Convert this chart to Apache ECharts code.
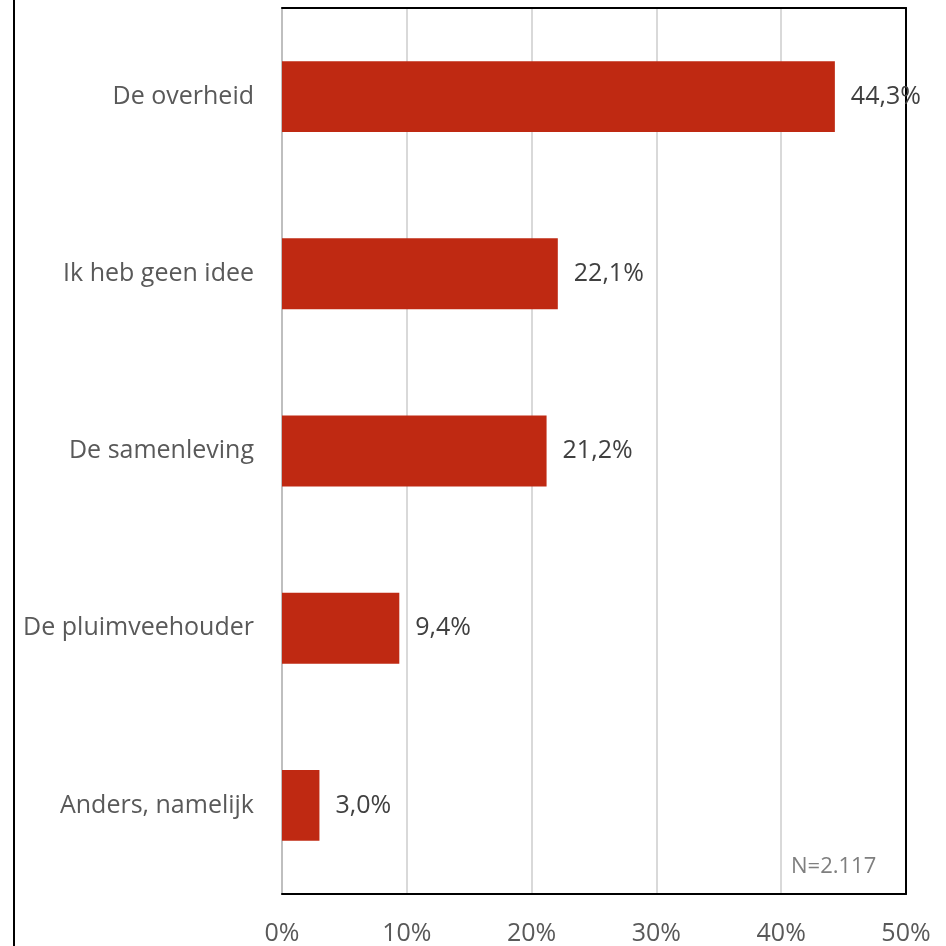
<!DOCTYPE html>
<html>
<head>
<meta charset="utf-8">
<script src="https://cdn.jsdelivr.net/npm/echarts@6/dist/echarts.min.js"></script>
<style>html,body{margin:0;padding:0;background:#fff}#c{width:946px;height:946px}</style>
</head>
<body>
<div id="c"></div>
<script>
const categories = ["De overheid", "Ik heb geen idee", "De samenleving", "De pluimveehouder", "Anders, namelijk"];
const values = [44.3, 22.1, 21.2, 9.4, 3.0];
const axisMin = 0, axisMax = 50, axisStep = 10;
const noteText = "N=2.117";

const FONT = "Open Sans";
const chart = echarts.init(document.getElementById('c'), null, {renderer: 'canvas'});
chart.setOption({
  animation: false,
  backgroundColor: '#fff',
  grid: {left: 282, right: 40, top: 8, bottom: 51},
  xAxis: [{
    type: 'value', min: axisMin, max: axisMax, interval: axisStep, position: 'bottom',
    axisLine: {show: true, onZero: false, lineStyle: {color: '#000', width: 2}}, axisTick: {show: false},
    splitLine: {show: true, lineStyle: {color: '#d9d9d9', width: 2}},
    axisLabel: {formatter: '{value}%', color: '#595959', fontSize: 25, fontFamily: FONT, margin: 27}
  }, {
    type: 'value', min: axisMin, max: axisMax, interval: axisStep, position: 'top',
    axisLine: {show: true, onZero: false, lineStyle: {color: '#000', width: 2}}, axisTick: {show: false},
    splitLine: {show: false}, axisLabel: {show: false}
  }],
  yAxis: [{
    type: 'category', data: categories, inverse: true, position: 'left',
    axisLine: {show: true, onZero: false, lineStyle: {color: '#bfbfbf', width: 2}},
    axisTick: {show: false},
    axisLabel: {color: '#595959', fontSize: 25, fontFamily: FONT, margin: 28}
  }, {
    type: 'category', data: categories, inverse: true, position: 'right',
    axisLine: {show: true, onZero: false, lineStyle: {color: '#000', width: 2}},
    axisTick: {show: false}, axisLabel: {show: false}, splitLine: {show: false}
  }],
  series: [{
    type: 'bar', data: values, barCategoryGap: '60%', xAxisIndex: 0, yAxisIndex: 0, z: 3,
    itemStyle: {color: '#BF2912'},
    label: {show: true, position: 'right', distance: 16, color: '#404040', fontSize: 25, fontFamily: FONT,
      formatter: p => p.value.toFixed(1).replace('.', ',') + '%'}
  }],
  graphic: [
    {type: 'line', shape: {x1: 14, y1: 0, x2: 14, y2: 946}, style: {stroke: '#000', lineWidth: 2}},
    {type: 'text', x: 791, y: 867, z: 10, style: {text: noteText, fill: '#7f7f7f', font: '22px "Open Sans"', textVerticalAlign: 'middle'}}
  ]
});
</script>
</body>
</html>
